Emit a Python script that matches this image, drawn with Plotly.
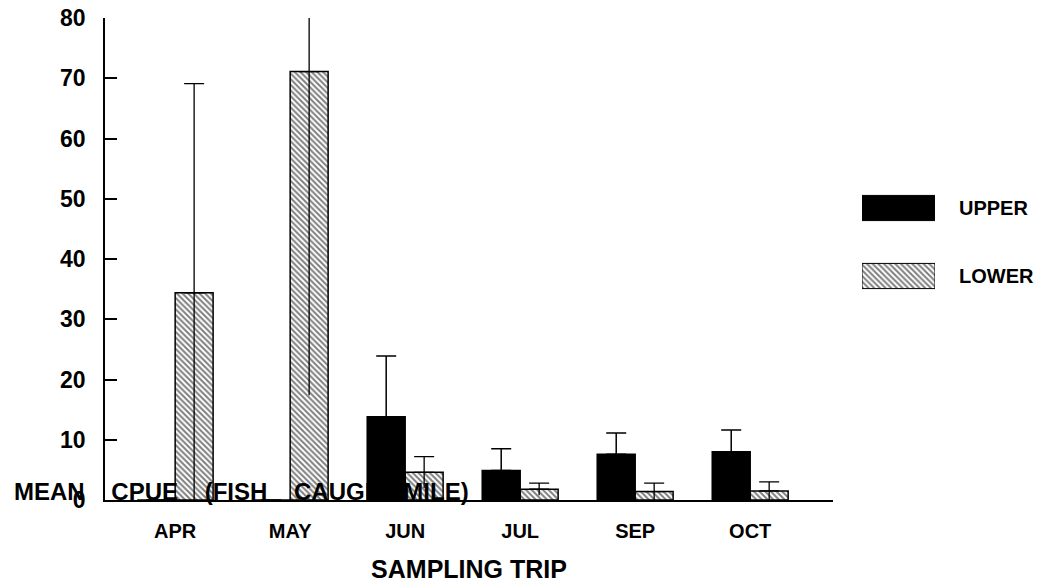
import plotly.graph_objects as go

months = ["APR", "MAY", "JUN", "JUL", "SEP", "OCT"]
upper_mean = [0, 0, 13.8, 4.9, 7.6, 8.0]
upper_top = [0, 0, 23.9, 8.5, 11.1, 11.6]
lower_mean = [34.4, 71.1, 4.6, 1.8, 1.4, 1.5]
lower_top = [69.1, 124.8, 7.2, 2.8, 2.8, 3.0]
y_ticks = [0, 10, 20, 30, 40, 50, 60, 70, 80]
series_names = ["UPPER", "LOWER"]
y_title_words = ["MEAN", "CPUE", "(FISH", "CAUGHT/MILE)"]

upper_err = [t - m for t, m in zip(upper_top, upper_mean)]
lower_err = [t - m for t, m in zip(lower_top, lower_mean)]
zeros = [0] * len(months)

W, H = 1047, 585
X0, X1 = 105, 833
Y0, Y1 = 500, 18

FONT = "Liberation Sans, Arial, Helvetica, sans-serif"
hatch_bar = dict(shape="\\", fgcolor="black", bgcolor="rgba(255,255,255,0)", size=4, solidity=0.5)
hatch_key = dict(shape="\\", fgcolor="black", bgcolor="white", size=4, solidity=0.5)

fig = go.Figure()

fig.add_trace(go.Bar(
    x=months, y=upper_mean, name=series_names[0], offsetgroup="u",
    marker=dict(color="black", line=dict(color="black", width=1.5)),
    error_y=dict(type="data", symmetric=False, array=upper_err, arrayminus=zeros,
                 color="black", thickness=1.5, width=10),
    showlegend=False,
))
fig.add_trace(go.Bar(
    x=months, y=lower_mean, name=series_names[1], offsetgroup="l",
    marker=dict(color="rgba(255,255,255,0)", pattern=hatch_bar,
                line=dict(color="black", width=1.5)),
    error_y=dict(type="data", symmetric=False, array=lower_err, arrayminus=zeros,
                 color="black", thickness=1.3, width=10),
    showlegend=False,
))
# downward half of the error bars (no cap)
fig.add_trace(go.Bar(
    x=months, y=lower_mean, offsetgroup="l",
    marker=dict(color="rgba(0,0,0,0)", line=dict(width=0)),
    error_y=dict(type="data", symmetric=False, array=zeros, arrayminus=lower_err,
                 color="black", thickness=1.3, width=0),
    showlegend=False, hoverinfo="skip",
))

# legend swatches on their own small axes
fig.add_trace(go.Bar(
    x=[1], y=[series_names[0]], orientation="h", width=0.37,
    marker=dict(color="black", line=dict(color="black", width=1)),
    xaxis="x2", yaxis="y2", showlegend=False, hoverinfo="skip",
))
fig.add_trace(go.Bar(
    x=[1], y=[series_names[1]], orientation="h", width=0.37,
    marker=dict(color="white", pattern=hatch_key, line=dict(color="black", width=1)),
    xaxis="x2", yaxis="y2", showlegend=False, hoverinfo="skip",
))

fig.update_layout(
    width=W, height=H,
    margin=dict(l=0, r=0, t=0, b=0),
    paper_bgcolor="white", plot_bgcolor="white",
    barmode="group", bargap=0.34, bargroupgap=0,
    font=dict(family=FONT, color="black"),
    xaxis=dict(
        domain=[X0 / W, X1 / W], range=[-0.61, 5.72], type="category",
        showline=True, linecolor="black", linewidth=1.5, ticks="",
        showgrid=False, zeroline=False, automargin=False,
        tickfont=dict(family=FONT, size=20, weight="bold"),
        ticklabelstandoff=12,
        title=dict(text="<b>SAMPLING TRIP</b>", font=dict(family=FONT, size=25), standoff=20),
    ),
    yaxis=dict(
        domain=[1 - Y0 / H, 1 - Y1 / H], range=[0, 80],
        tickvals=y_ticks, showline=True, linecolor="black", linewidth=1.5,
        ticks="inside", ticklen=12, tickwidth=1.5, tickcolor="black",
        showgrid=False, zeroline=False, automargin=False,
        tickfont=dict(family=FONT, size=23, weight="bold"),
        ticklabelstandoff=13,
    ),
    xaxis2=dict(domain=[862 / W, 935 / W], range=[0, 1], visible=False, anchor="y2",
                fixedrange=True),
    yaxis2=dict(domain=[1 - 310 / H, 1 - 174 / H], range=[-0.5, 1.5], visible=False,
                anchor="x2", type="category", categoryorder="array",
                categoryarray=[series_names[1], series_names[0]], fixedrange=True),
)

for i, nm in enumerate([series_names[1], series_names[0]]):
    fig.add_annotation(
        x=957 / W, xref="paper", xanchor="left", y=i, yref="y2", yanchor="middle",
        text="<b>" + nm + "</b>", showarrow=False,
        font=dict(family=FONT, size=20, color="black"),
    )

# y-axis title as printed: horizontal, along the baseline, behind the bars
gaps = ["\u00a0" * 4, "\u00a0" * 4, "\u00a0" * 4]
title_text = y_title_words[0]
for g, w in zip(gaps, y_title_words[1:]):
    title_text += g + w
fig.add_shape(
    type="rect", xref="paper", yref="paper",
    x0=11 / W, x1=640 / W, y0=1 - 500 / H, y1=1 - 478 / H,
    line=dict(width=0), fillcolor="rgba(0,0,0,0)", layer="below",
    label=dict(text="<b>" + title_text + "</b>",
               textposition="middle left", padding=0,
               font=dict(family=FONT, size=24, color="black")),
)

fig.write_html("out.html", config={"displayModeBar": False},
               post_script="document.body.style.margin='0';")
